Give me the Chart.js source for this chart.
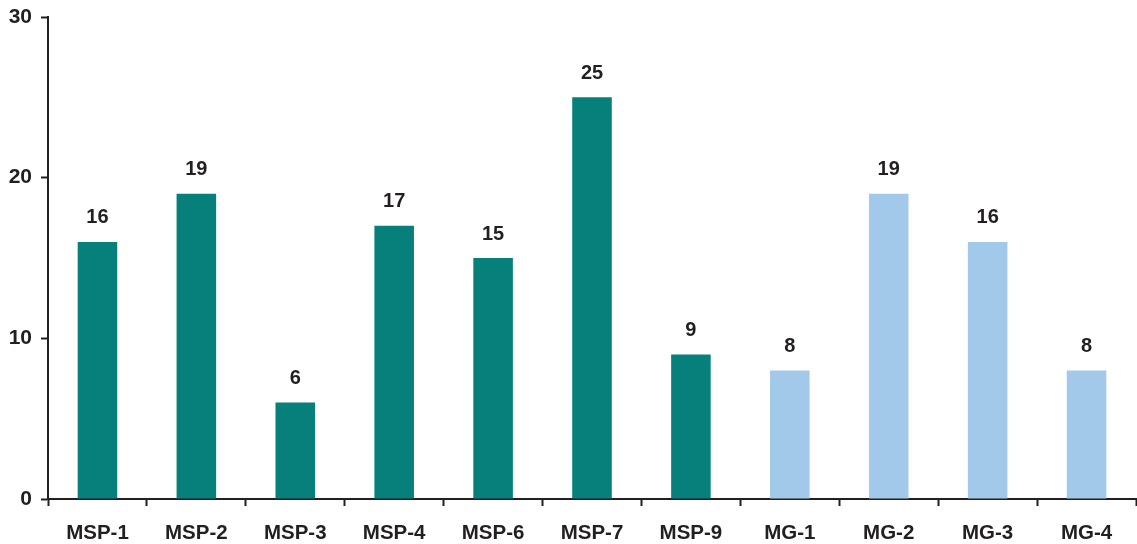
<!DOCTYPE html>
<html>
<head>
<meta charset="UTF-8">
<title>Bar chart</title>
<script src="https://cdn.jsdelivr.net/npm/chart.js"></script>
<style>
    body { margin: 0; background: #fff; }
    .wrap { width: 1137px; height: 544px; position: relative; }
</style>
</head>
<body>
<div class="wrap"><canvas id="chart"></canvas></div>
<script>
    // data
    const categories = ['MSP-1', 'MSP-2', 'MSP-3', 'MSP-4', 'MSP-6', 'MSP-7', 'MSP-9', 'MG-1', 'MG-2', 'MG-3', 'MG-4'];
    const values = [16, 19, 6, 17, 15, 25, 9, 8, 19, 16, 8];
    const groups = ['MSP', 'MSP', 'MSP', 'MSP', 'MSP', 'MSP', 'MSP', 'MG', 'MG', 'MG', 'MG'];
    const yTicks = [0, 10, 20, 30];

    const groupColors = { MSP: '#07807c', MG: '#a3c9ea' };
    const ink = '#231f20';
    const fontFamily = '"Liberation Sans", Arial, sans-serif';

    // simple value labels over the bars
    const valueLabels = {
        id: 'valueLabels',
        afterDatasetsDraw(chart) {
            const ctx = chart.ctx;
            const meta = chart.getDatasetMeta(0);
            ctx.save();
            ctx.font = 'bold 20px ' + fontFamily;
            ctx.fillStyle = ink;
            ctx.textAlign = 'center';
            ctx.textBaseline = 'middle';
            meta.data.forEach((bar, i) => {
                ctx.fillText(String(values[i]), bar.x, bar.y - 24);
            });
            ctx.restore();
        }
    };

    new Chart(document.getElementById('chart'), {
        type: 'bar',
        data: {
            labels: categories,
            datasets: [{
                data: values,
                backgroundColor: groups.map(g => groupColors[g]),
                barPercentage: 0.4,
                categoryPercentage: 1.0
            }]
        },
        options: {
            responsive: true,
            maintainAspectRatio: false,
            animation: false,
            layout: { padding: { top: 17, right: 1, left: 0, bottom: 0 } },
            plugins: {
                legend: { display: false },
                tooltip: { enabled: false }
            },
            scales: {
                x: {
                    afterFit(scale) { scale.height = 45; },
                    grid: {
                        drawOnChartArea: false,
                        tickLength: 7,
                        tickWidth: 2,
                        tickColor: ink
                    },
                    border: { color: ink, width: 2 },
                    ticks: {
                        color: ink,
                        padding: 15,
                        font: { family: fontFamily, size: 20.5, weight: 'bold' }
                    }
                },
                y: {
                    min: 0,
                    max: 30,
                    afterFit(scale) {
                        scale.width = 48;
                        scale.paddingTop = 0;
                        scale.paddingBottom = 0;
                    },
                    afterBuildTicks(scale) { scale.ticks = yTicks.map(v => ({ value: v })); },
                    grid: {
                        drawOnChartArea: false,
                        tickLength: 7,
                        tickWidth: 2,
                        tickColor: ink
                    },
                    border: { color: ink, width: 2 },
                    ticks: {
                        color: ink,
                        padding: 9,
                        font: { family: fontFamily, size: 21, weight: 'bold' }
                    }
                }
            }
        },
        plugins: [valueLabels]
    });
</script>
</body>
</html>
